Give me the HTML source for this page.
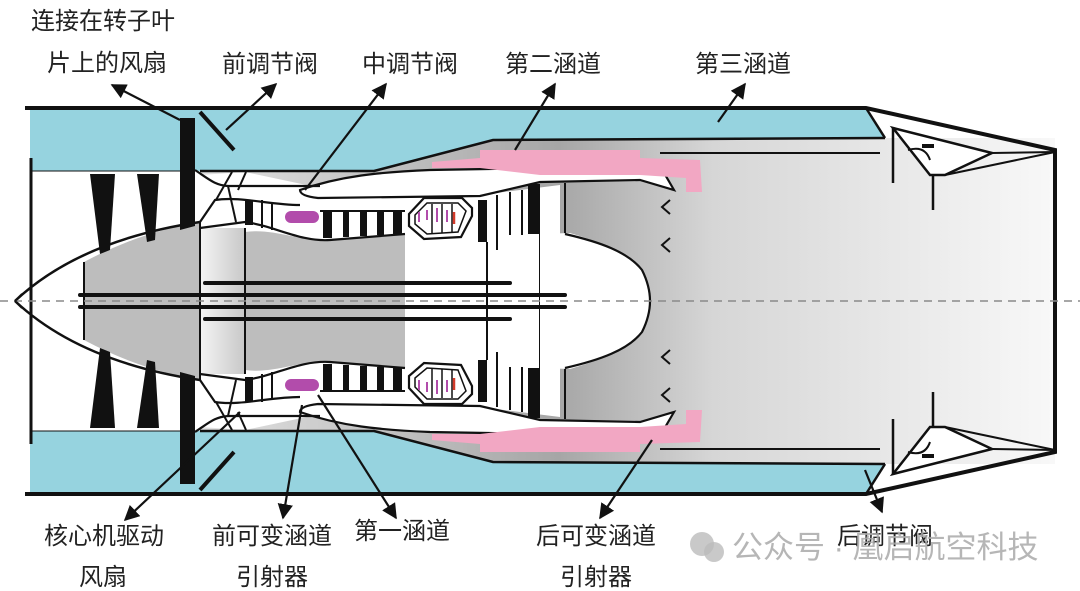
<!DOCTYPE html>
<html><head><meta charset="utf-8"><style>
html,body{margin:0;padding:0;background:#fff;}
svg{display:block;}
text{font-family:"Liberation Sans","Noto Sans CJK SC",sans-serif;font-size:24px;fill:#222;}
</style></head><body>
<svg width="1080" height="591" viewBox="0 0 1080 591" xmlns="http://www.w3.org/2000/svg">
<defs>
<linearGradient id="jet" x1="0" y1="0" x2="1" y2="0" gradientUnits="objectBoundingBox">
<stop offset="0" stop-color="#e2e2e2"/>
<stop offset="0.2" stop-color="#c4c4c4"/>
<stop offset="0.42" stop-color="#a6a6a6"/>
<stop offset="0.6" stop-color="#d6d6d6"/>
<stop offset="1" stop-color="#f8f8f8"/>
</linearGradient>
<linearGradient id="lg" x1="0" y1="0" x2="1" y2="0">
<stop offset="0" stop-color="#f4f4f4"/><stop offset="1" stop-color="#c8c8c8"/>
</linearGradient>
<marker id="ah" viewBox="0 0 10 10" refX="9" refY="5" markerWidth="7" markerHeight="7" orient="auto-start-reverse">
<path d="M0,0 L10,5 L0,10 Z" fill="#111"/>
</marker>
<g id="half">
 <rect x="200" y="138" width="855" height="163" fill="url(#jet)"/>
 <polygon points="30,110 866,110 885,138 493,141 374,171 30,171" fill="#96d3df"/>
 <rect x="31" y="171" width="170" height="130" fill="#fff"/>
 <path d="M84 262 Q140 232 200 222 L200 301 L84 301 Z" fill="#bdbdbd"/>
 <path d="M15 301 Q80 240 200 222" fill="none" stroke="#111" stroke-width="2.5"/>
 <line x1="84" y1="262" x2="84" y2="301" stroke="#111" stroke-width="2"/>
 <polygon points="90,174 115,174 110,250 100,254" fill="#111"/>
 <polygon points="137,174 159,174 155,240 147,242" fill="#111"/>
 <polygon points="180,118 195,118 195,226 180,230" fill="#111"/>
 <path d="M200 175 L245 172 L330 190 L330 197 L480 195 L560 185 L560 301 L200 301 Z" fill="#fff"/>
 <rect x="200" y="228" width="45" height="73" fill="url(#lg)"/>
 <path d="M245 232 C275 228 300 242 330 240 L405 234 L405 301 L245 301 Z" fill="#bdbdbd"/>
 <path d="M300 190 C340 176 380 172 430 170 L660 166 L674 190 L640 180 L540 182 L480 196 L318 198 Q300 196 300 190 Z" fill="#fff" stroke="#111" stroke-width="2.2"/>
 <path d="M195 170 C210 180 215 185 228 186 L320 186" fill="none" stroke="#111" stroke-width="2.2"/>
 <path d="M200 222 L215 200 C240 196 270 205 300 205" fill="none" stroke="#111" stroke-width="2.2"/>
 <path d="M200 228 L245 222 C275 226 300 242 330 240 L405 234" fill="none" stroke="#111" stroke-width="2.2"/>
 <line x1="232" y1="172" x2="216" y2="200" stroke="#111" stroke-width="2"/>
 <line x1="246" y1="172" x2="238" y2="190" stroke="#111" stroke-width="2"/>
 <line x1="228" y1="186" x2="236" y2="222" stroke="#111" stroke-width="2"/>
 <rect x="245" y="200" width="8" height="25" fill="#111"/>
 <line x1="262" y1="200" x2="262" y2="228" stroke="#111" stroke-width="2"/>
 <line x1="272" y1="202" x2="272" y2="230" stroke="#111" stroke-width="2"/>
 <rect x="285" y="211" width="34" height="12" rx="6" fill="#b24cab"/>
 <rect x="323" y="212" width="9" height="26" fill="#111"/>
 <rect x="343" y="212" width="6" height="25" fill="#111"/>
 <rect x="360" y="212" width="7" height="24" fill="#111"/>
 <rect x="377" y="212" width="7" height="23" fill="#111"/>
 <rect x="393" y="212" width="9" height="22" fill="#111"/>
 <line x1="320" y1="211" x2="405" y2="211" stroke="#111" stroke-width="2"/>
 <polygon points="409,214 424,198 462,198 472,208 472,216 461,237 424,239 409,226" fill="#fff" stroke="#111" stroke-width="2.2"/>
 <polygon points="415,215 427,203 458,203 466,211 458,232 427,234 415,224" fill="none" stroke="#111" stroke-width="1.5"/>
 <line x1="432" y1="204" x2="432" y2="233" stroke="#111" stroke-width="1.5"/>
 <line x1="442" y1="204" x2="442" y2="233" stroke="#111" stroke-width="1.5"/>
 <line x1="452" y1="204" x2="452" y2="233" stroke="#111" stroke-width="1.5"/>
 <line x1="419" y1="212" x2="419" y2="222" stroke="#b24cab" stroke-width="2"/>
 <line x1="427" y1="210" x2="427" y2="220" stroke="#b24cab" stroke-width="2"/>
 <line x1="437" y1="208" x2="437" y2="222" stroke="#b24cab" stroke-width="2"/>
 <line x1="447" y1="210" x2="447" y2="222" stroke="#b24cab" stroke-width="2"/>
 <line x1="454" y1="212" x2="454" y2="224" stroke="#d23a2a" stroke-width="2.5"/>
 <rect x="478" y="200" width="9" height="42" fill="#111"/>
 <line x1="497" y1="195" x2="497" y2="250" stroke="#111" stroke-width="2"/>
 <line x1="510" y1="192" x2="510" y2="235" stroke="#111" stroke-width="2"/>
 <line x1="522" y1="190" x2="522" y2="235" stroke="#111" stroke-width="2"/>
 <rect x="528" y="184" width="12" height="50" fill="#111"/>
 <line x1="565" y1="183" x2="565" y2="235" stroke="#111" stroke-width="2"/>
 <line x1="487" y1="242" x2="487" y2="301" stroke="#111" stroke-width="2"/>
 <line x1="540" y1="234" x2="540" y2="301" stroke="#111" stroke-width="2"/>
 <path d="M540 234 L570 233 C600 242 628 252 642 270 C648 282 650 292 650 301 L540 301 Z" fill="#fff"/>
 <path d="M565 234 C600 242 628 252 642 270 C648 282 650 292 650 301" fill="none" stroke="#111" stroke-width="2.2"/>
 <line x1="200" y1="222" x2="200" y2="301" stroke="#111" stroke-width="2"/>
 <line x1="245" y1="228" x2="245" y2="301" stroke="#111" stroke-width="2"/>
 <line x1="205" y1="283" x2="510" y2="283" stroke="#111" stroke-width="4" stroke-linecap="round"/>
 <line x1="80" y1="295" x2="565" y2="295" stroke="#111" stroke-width="4" stroke-linecap="round"/>
 <path d="M432 162 L480 158 L480 150 L640 150 L640 158 L700 160 L702 192 L686 192 L686 178 L640 175 L540 175 L480 168 L432 168 Z" fill="#f2a7c3"/>
 <path d="M670 200 L662 207 L670 214" fill="none" stroke="#111" stroke-width="2"/>
 <path d="M670 238 L662 245 L670 252" fill="none" stroke="#111" stroke-width="2"/>
 <path d="M200 171 L374 171 L493 140 L885 138" fill="none" stroke="#111" stroke-width="2.5"/>
 <line x1="30" y1="171" x2="180" y2="171" stroke="#111" stroke-width="1"/>
 <path d="M25 108 L866 108 L1055 150 L1055 301" fill="none" stroke="#111" stroke-width="4"/>
 <line x1="31" y1="158" x2="31" y2="301" stroke="#111" stroke-width="3"/>
 <line x1="866" y1="108" x2="885" y2="138" stroke="#111" stroke-width="2.5"/>
 <line x1="660" y1="153" x2="880" y2="153" stroke="#111" stroke-width="2"/>
 <line x1="893" y1="128" x2="893" y2="183" stroke="#111" stroke-width="2.5"/>
 <polygon points="893,128 992,153 945,175 930,175" fill="#fff" stroke="#111" stroke-width="2.5"/>
 <line x1="992" y1="153" x2="1055" y2="152" stroke="#111" stroke-width="2"/>
 <line x1="945" y1="175" x2="1055" y2="152" stroke="#111" stroke-width="2"/>
 <line x1="933" y1="175" x2="933" y2="210" stroke="#111" stroke-width="2.5"/>
 <path d="M908 150 Q925 145 930 160" fill="none" stroke="#111" stroke-width="2"/>
 <rect x="922" y="144" width="12" height="4" fill="#111"/>
 <line x1="200" y1="112" x2="234" y2="150" stroke="#111" stroke-width="4"/>
</g>
</defs>
<use href="#half"/>
<use href="#half" transform="translate(0,602) scale(1,-1)"/>
<line x1="0" y1="301" x2="1080" y2="301" stroke="#8a8a8a" stroke-width="1.5" stroke-dasharray="8 6"/>
<path d="M15 301 L22 294 M15 301 L22 308" stroke="#111" stroke-width="2"/>

<g stroke="#111" stroke-width="2.2" fill="none">
<line x1="180" y1="120" x2="112" y2="85" marker-end="url(#ah)"/>
<line x1="226" y1="130" x2="276" y2="84" marker-end="url(#ah)"/>
<line x1="305" y1="190" x2="386" y2="84" marker-end="url(#ah)"/>
<line x1="515" y1="150" x2="555" y2="84" marker-end="url(#ah)"/>
<line x1="718" y1="122" x2="745" y2="84" marker-end="url(#ah)"/>
<line x1="240" y1="412" x2="125" y2="520" marker-end="url(#ah)"/>
<line x1="302" y1="405" x2="283" y2="518" marker-end="url(#ah)"/>
<line x1="318" y1="395" x2="396" y2="518" marker-end="url(#ah)"/>
<line x1="652" y1="440" x2="600" y2="518" marker-end="url(#ah)"/>
<line x1="865" y1="470" x2="882" y2="512" marker-end="url(#ah)"/>
</g>

<text x="31" y="29">连接在转子叶</text>
<text x="47" y="71">片上的风扇</text>
<text x="222" y="72">前调节阀</text>
<text x="362" y="72">中调节阀</text>
<text x="505" y="72">第二涵道</text>
<text x="695" y="72">第三涵道</text>
<text x="44" y="544">核心机驱动</text>
<text x="79" y="585">风扇</text>
<text x="212" y="544">前可变涵道</text>
<text x="236" y="585">引射器</text>
<text x="354" y="539">第一涵道</text>
<text x="536" y="544">后可变涵道</text>
<text x="560" y="585">引射器</text>
<text x="837" y="544">后调节阀</text>
<circle cx="702" cy="544" r="12" fill="#bbb" opacity="0.8"/>
<circle cx="714" cy="552" r="10" fill="#bbb" opacity="0.8"/>
<text x="732" y="558" style="font-size:31px;fill:#aaa;opacity:0.85">公众号 · 凰启航空科技</text>
</svg>
</body></html>
